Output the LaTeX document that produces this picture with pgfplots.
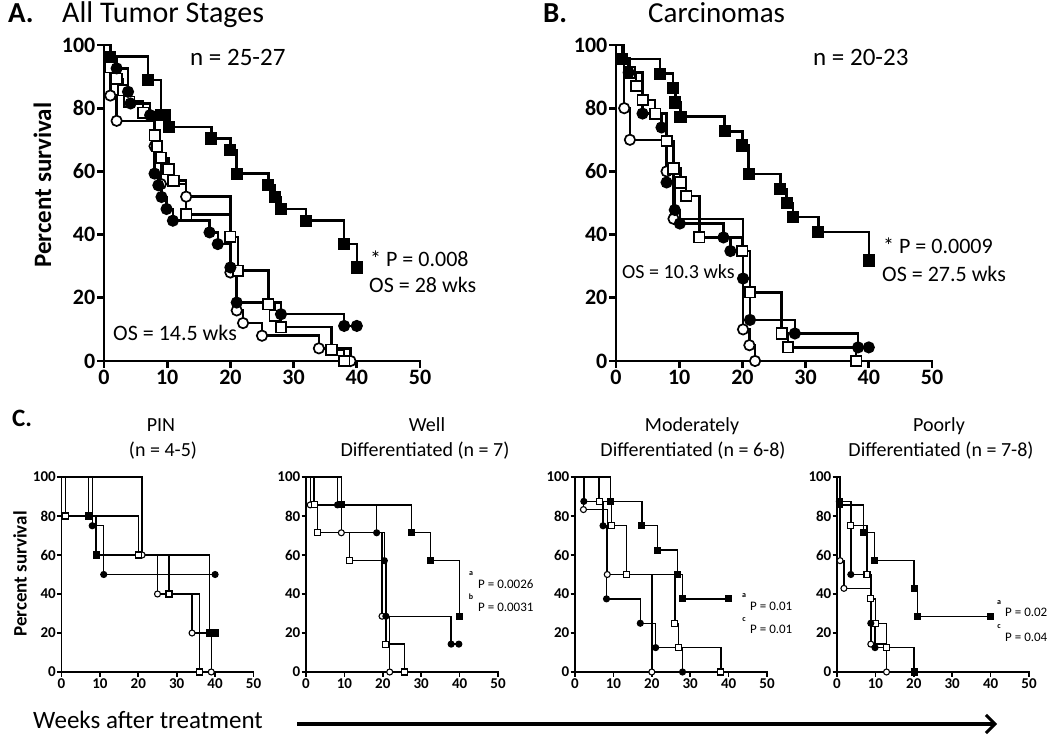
\documentclass[border=0pt]{standalone}
\usepackage{pgfplots}
\pgfplotsset{compat=1.18}
\usepackage{fontspec}
\setmainfont{Carlito}
\usetikzlibrary{arrows.meta}
\newcommand{\fs}[1]{\fontsize{#1bp}{#1bp}\selectfont}
\pgfplotsset{
  km/.style 2 args={scale only axis, anchor=south west, clip=false,
    xmin=0,xmax=50,ymin=0,ymax=100,
    axis lines*=left, xtick={0,10,20,30,40,50}, ytick={0,20,40,60,80,100},
    tick align=outside, major tick length=#2,
    axis line style={line width=#1, line cap=rect},
    tick style={line width=#1, black},
    /pgf/number format/assume math mode=true},
  big/.style={km={2.8bp}{7bp}, width=316bp, height=316bp,
    ticklabel style={font=\fs{22}\bfseries},
    xticklabel style={inner sep=2bp}, yticklabel style={inner sep=1.5bp}},
  small/.style={km={1.7bp}{4.5bp}, width=192bp, height=195bp,
    ticklabel style={font=\fs{15}\bfseries},
    xticklabel style={inner sep=2bp}, yticklabel style={inner sep=1bp}},
  lA/.style={black, line width=2.5bp},
  lC/.style={black, line width=1.4bp},
  mA/.style={black, mark size=5.2bp, line width=1.7bp},
  mC/.style={black, mark size=3bp, line width=1.1bp},
  FS/.style={mark=square*, fill=black},
  FC/.style={mark=*, fill=black},
  OS/.style={mark=square*, fill=white},
  OC/.style={mark=*, fill=white},
}
\newcommand{\km}[3]{%
  \addplot[#1, const plot, mark=none] coordinates {#3};
  \addplot[#2, only marks, skip coords between index={0}{1}] coordinates {#3};}
\begin{document}
\begin{tikzpicture}
\path[use as bounding box] (0,0) rectangle (1050bp,736bp);
% ---------- Panel A
\begin{axis}[big, at={(104bp,375bp)}]
\km{lA}{mA,OC}{(0,100)(1,84)(2,76)(8,68)(9,56)(13,52)(20,28)(21,16)(22,12)(25,8)(34,4)(39,0)}
\km{lA}{mA,OS}{(0,100)(1,92.9)(2,89.3)(3,85.7)(4,82.1)(6.2,78.6)(8,71.4)(8.4,67.9)(9,64.3)(10.2,60.7)(11,57.1)(13,46.4)(20,39.3)(21.2,28.6)(26,17.9)(27,14.3)(28,10.7)(36,3.6)(38,0)}
\km{lA}{mA,FC}{(0,100)(1,96.3)(2,92.6)(3.8,85.2)(4.2,81.5)(7.3,77.8)(8,59.3)(8.6,55.6)(9.1,51.9)(9.9,48.1)(10.9,44.4)(16.7,40.7)(18,37.0)(20,29.6)(21,18.5)(28,14.8)(38,11.1)(40,11.1)}
\km{lA}{mA,FS}{(0,100)(1,96.3)(7,88.9)(9,77.8)(9.7,77.8)(10.3,74.1)(17,70.4)(20,66.7)(21,59.3)(26,55.6)(27,51.9)(28,48.1)(32,44.4)(38,37.0)(40,29.6)}
\end{axis}
% ---------- Panel B
\begin{axis}[big, at={(616bp,375bp)}]
\km{lA}{mA,OC}{(0,100)(1.3,80)(2.2,70)(8,60)(9.1,45)(20.1,10)(21.1,5)(22,0)}
\km{lA}{mA,OS}{(0,100)(1,95.7)(2.2,91.3)(3.2,87)(4.2,82.6)(6.2,78.3)(8,69.6)(9.1,60.9)(10.2,56.5)(11.1,52.2)(13.2,39.1)(20,34.8)(21.2,21.7)(26.2,8.7)(27.2,4.3)(38,0)}
\km{lA}{mA,FC}{(0,100)(1,95.7)(2,91.3)(4.2,78.3)(7.2,73.9)(8,56.5)(9.3,47.8)(10.1,43.5)(17,39.1)(18.1,34.8)(20.1,26.1)(21.2,13)(28.3,8.7)(38.3,4.3)(40,4.3)}
\km{lA}{mA,FS}{(0,100)(1,95.5)(7,90.9)(9,86.4)(9.4,81.8)(10.2,77.3)(17.2,72.7)(20,68.2)(21,59.1)(26,54.5)(27,50)(28,45.5)(32,40.9)(40,31.8)}
\end{axis}
% ---------- Panel C: PIN
\begin{axis}[small, at={(61.5bp,64bp)}]
\km{lC}{mC,OC}{(0,100)(21,60)(25,40)(34,20)(39,0)}
\km{lC}{mC,OS}{(0,100)(1,80)(20,60)(28,40)(36,0)}
\km{lC}{mC,FC}{(0,100)(8,75)(11,50)(40,50)}
\km{lC}{mC,FS}{(0,100)(7,80)(9,60)(38.5,20)(40,20)}
\end{axis}
% ---------- Well
\begin{axis}[small, at={(306bp,64bp)}]
\km{lC}{mC,OC}{(0,100)(1.1,85.7)(9.2,71.4)(19.8,28.6)(21.8,0)}
\km{lC}{mC,OS}{(0,100)(2.1,85.7)(3,71.4)(11.3,57.1)(20.8,14.3)(25.7,0)}
\km{lC}{mC,FC}{(0,100)(8.2,85.7)(18.4,71.4)(20.4,57.1)(20.8,28.6)(37.8,14.3)(39.8,14.3)}
\km{lC}{mC,FS}{(0,100)(9.2,85.7)(27.5,71.4)(32.4,57.1)(40,28.6)}
\end{axis}
% ---------- Moderately
\begin{axis}[small, at={(575bp,64bp)}]
\km{lC}{mC,OC}{(0,100)(2.2,83.3)(8.4,50)(20,0)}
\km{lC}{mC,OS}{(0,100)(6.3,87.5)(9.5,75)(13.4,50)(26,25)(27,12.5)(38,0)}
\km{lC}{mC,FC}{(0,100)(2.3,87.5)(7.3,75)(8.2,37.5)(17,25)(21,12.5)(28,0)}
\km{lC}{mC,FS}{(0,100)(9.3,87.5)(17.4,75)(21.5,62.5)(26.7,50)(28,37.5)(40,37.5)}
\end{axis}
% ---------- Poorly
\begin{axis}[small, at={(837bp,64bp)}]
\km{lC}{mC,OC}{(0,100)(0.8,57.1)(1.8,42.9)(8.8,14.3)(12.9,0)}
\km{lC}{mC,OS}{(0,100)(0.6,87.5)(3.6,75)(7.8,50)(8.8,37.5)(10.1,25)(12.9,12.5)(20.1,0)}
\km{lC}{mC,FC}{(0,100)(0.6,87.5)(3.6,50)(8.8,25)(9.9,12.5)(20.1,0)}
\km{lC}{mC,FS}{(0,100)(0.7,85.7)(6.9,71.4)(9.7,57.1)(20.1,42.9)(20.9,28.6)(40,28.6)}
\end{axis}
% ---------- texts
\node[anchor=base west, font=\fs{29}\bfseries, inner sep=0] at (8bp,713bp) {A.};
\node[anchor=base west, font=\fs{30}, inner sep=0] at (62bp,713bp) {All Tumor Stages};
\node[anchor=base west, font=\fs{29}\bfseries, inner sep=0] at (543bp,713bp) {B.};
\node[anchor=base west, font=\fs{29}, inner sep=0] at (648bp,713bp) {Carcinomas};
\node[anchor=base west, font=\fs{25}, inner sep=0] at (190bp,670bp) {n = 25-27};
\node[anchor=base west, font=\fs{25}, inner sep=0] at (813bp,670bp) {n = 20-23};
\node[anchor=base west, font=\fs{22}, inner sep=0] at (370bp,469bp) {* P = 0.008};
\node[anchor=base west, font=\fs{22}, inner sep=0] at (369bp,443bp) {OS = 28 wks};
\node[anchor=base west, font=\fs{22}, inner sep=0] at (113bp,395bp) {OS = 14.5 wks};
\node[anchor=base west, font=\fs{22}, inner sep=0] at (883bp,482bp) {* P = 0.0009};
\node[anchor=base west, font=\fs{22}, inner sep=0] at (882bp,454bp) {OS = 27.5 wks};
\node[anchor=base west, font=\fs{20}, inner sep=0] at (622bp,457bp) {OS = 10.3 wks};
\node[rotate=90, font=\fs{25}\bfseries, inner sep=0] at (42.5bp,551bp) {Percent survival};
\node[anchor=base west, font=\fs{25}\bfseries, inner sep=0] at (12bp,309bp) {C.};
\node[anchor=base, font=\fs{20}, inner sep=0] at (161bp,304bp) {PIN};
\node[anchor=base, font=\fs{20}, inner sep=0] at (163bp,279bp) {(n = 4-5)};
\node[anchor=base, font=\fs{20}, inner sep=0] at (427bp,304bp) {Well};
\node[anchor=base, font=\fs{20}, inner sep=0] at (425bp,279bp) {Differentiated (n = 7)};
\node[anchor=base, font=\fs{20}, inner sep=0] at (692bp,304bp) {Moderately};
\node[anchor=base, font=\fs{20}, inner sep=0] at (693bp,279bp) {Differentiated (n = 6-8)};
\node[anchor=base, font=\fs{20}, inner sep=0] at (939bp,304bp) {Poorly};
\node[anchor=base, font=\fs{20}, inner sep=0] at (941bp,279bp) {Differentiated (n = 7-8)};
\node[rotate=90, font=\fs{19}\bfseries, inner sep=0] at (20bp,162bp) {Percent survival};
% p-values panel C
\node[font=\fs{8}\bfseries, inner sep=0] at (471bp,162bp) {a};
\node[anchor=west, font=\fs{13}, inner sep=0] at (478bp,152bp) {P = 0.0026};
\node[font=\fs{8}\bfseries, inner sep=0] at (471bp,139bp) {b};
\node[anchor=west, font=\fs{13}, inner sep=0] at (478bp,129bp) {P = 0.0031};
\node[font=\fs{8}\bfseries, inner sep=0] at (744bp,140bp) {a};
\node[anchor=west, font=\fs{13}, inner sep=0] at (750bp,130bp) {P = 0.01};
\node[font=\fs{8}\bfseries, inner sep=0] at (744bp,116bp) {c};
\node[anchor=west, font=\fs{13}, inner sep=0] at (750bp,107bp) {P = 0.01};
\node[font=\fs{8}\bfseries, inner sep=0] at (999bp,133bp) {a};
\node[anchor=west, font=\fs{13}, inner sep=0] at (1005bp,124bp) {P = 0.02};
\node[font=\fs{8}\bfseries, inner sep=0] at (999bp,109bp) {c};
\node[anchor=west, font=\fs{13}, inner sep=0] at (1005bp,99bp) {P = 0.04};
% bottom
\node[anchor=base west, font=\fs{25}, inner sep=0] at (33bp,8bp) {Weeks after treatment};
\draw[line width=4bp, -{Straight Barb[length=9bp,width=18bp,line width=3bp]}] (297bp,12bp) -- (997bp,12bp);
\end{tikzpicture}
\end{document}
